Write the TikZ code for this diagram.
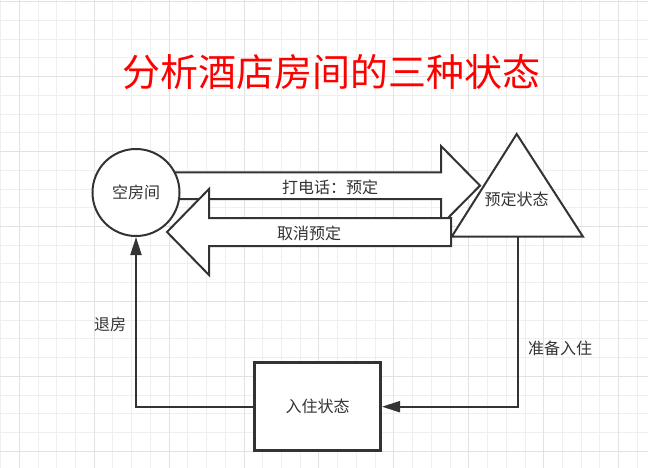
\documentclass[tikz,border=0pt]{standalone}
\usepackage{fontspec}
\newfontfamily\cjk{Noto Sans CJK SC}
\usetikzlibrary{arrows.meta}
\definecolor{ink}{HTML}{333333}
\definecolor{gridminor}{HTML}{EFEFEF}
\definecolor{gridmajor}{HTML}{E2E2E2}
\definecolor{titlered}{HTML}{FF0000}
\tikzset{
  shapeline/.style={draw=ink, line width=2pt, fill=white, line join=miter},
  conn/.style={draw=ink, line width=2pt},
  tip/.style={-{Triangle[length=18pt, width=11pt]}},
  lbl/.style={text=ink, font=\cjk\fontsize{16}{18}\selectfont, inner sep=0pt},
}
\begin{document}
\begin{tikzpicture}[x=1pt, y=-1pt]
\useasboundingbox (0,0) rectangle (648,468);
\fill[white] (0,0) rectangle (648,468);
% grid
\foreach \i in {0,...,34} {
  \draw[gridminor, line width=1pt] ({0.57+18.73*\i},0) -- ({0.57+18.73*\i},468);
}
\foreach \j in {0,...,24} {
  \draw[gridminor, line width=1pt] (0,{1.7+18.73*\j}) -- (648,{1.7+18.73*\j});
}
\foreach \i in {1,5,...,33} {
  \draw[gridmajor, line width=1pt] ({0.57+18.73*\i},0) -- ({0.57+18.73*\i},468);
}
\foreach \j in {0,4,...,24} {
  \draw[gridmajor, line width=1pt] (0,{1.7+18.73*\j}) -- (648,{1.7+18.73*\j});
}
% title
\node[text=titlered, font=\cjk\fontsize{38}{40}\selectfont, inner sep=0pt] (title) at (331,72) {分析酒店房间的三种状态};
% fat arrows
\draw[shapeline] (172,172.3) -- (441,172.3) -- (441,146) -- (480,185.6) -- (441,225) -- (441,199) -- (172,199) -- cycle;
\draw[shapeline] (451,218) -- (209,218) -- (209,189) -- (167,232) -- (209,275) -- (209,246) -- (451,246) -- cycle;
\node[lbl] (call) at (330,187) {打电话：预定};
\node[lbl] (cancel) at (309,233) {取消预定};
% empty room
\node[shapeline, circle, minimum size=87pt, inner sep=0pt, lbl] (room) at (136,192.5) {空房间};
% booked triangle
\draw[shapeline] (516.7,134) -- (583,236.7) -- (451.7,236.7) -- cycle;
\node[lbl] (booked) at (516.7,199) {预定状态};
\coordinate (tribase) at (518,236.7);
% checked-in box
\node[draw=ink, line width=2.6pt, fill=white, minimum width=126pt, minimum height=88pt, lbl] (stay) at (317.7,406.7) {入住状态};
% connectors
\draw[conn, tip] (tribase) |- (stay.east);
\draw[conn, tip] (stay.west) -| (room.south);
\node[lbl] (checkin) at (560,348) {准备入住};
\node[lbl] (checkout) at (110,324) {退房};
\end{tikzpicture}
\end{document}
